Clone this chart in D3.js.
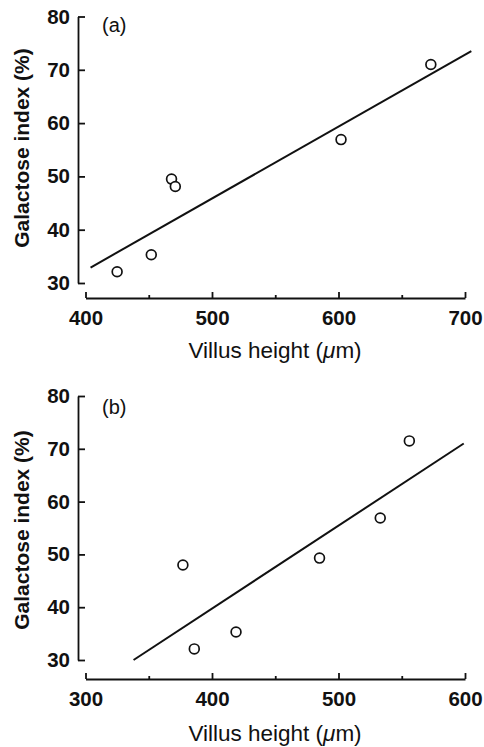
<!DOCTYPE html>
<html>
<head>
<meta charset="utf-8">
<script src="https://cdn.jsdelivr.net/npm/d3@7"></script>
<style>
  body { margin: 0; background: #fff; }
  text { font-family: "Liberation Sans", Arial, sans-serif; fill: #111; }
</style>
</head>
<body>
<div id="chart"></div>
<script>
// panel (a)
const villusA = [425, 452, 468, 471, 602, 673];
const galactoseA = [32.1, 35.3, 49.5, 48.1, 56.9, 71.0];
const fitXA = [404, 705];
const fitYA = [32.9, 73.5];
const xTicksA = [400, 500, 600, 700];
const xMinorA = [450, 550, 650];

// panel (b)
const villusB = [377, 386, 419, 485, 533, 556];
const galactoseB = [48.0, 32.1, 35.3, 49.3, 56.9, 71.5];
const fitXB = [338, 599];
const fitYB = [30, 71];
const xTicksB = [300, 400, 500, 600];
const xMinorB = [350, 450, 550];

const yTicks = [30, 40, 50, 60, 70, 80];
const panelLabels = ["(a)", "(b)"];
const xTitleParts = ["Villus height (", "\u03bc", "m)"];
const yTitle = "Galactose index (%)";

const width = 484, height = 747;

const svg = d3.select("#chart")
  .append("svg")
  .attr("width", width)
  .attr("height", height)
  .style("background-color", "white")

function drawPanel(p) {
  const g = svg.append("g").attr("transform", `translate(0, ${p.top})`)

  const x = d3.scaleLinear().domain(p.xDomain).range([85.5, 465])
  const y = d3.scaleLinear().domain([30, 80]).range([p.yBottom, 0])

  // y axis, ticks pointing inwards
  const yAxis = g.append("g")
    .attr("transform", "translate(78, 0)")
    .call(d3.axisLeft(y).tickValues(yTicks).tickSizeInner(-7).tickSizeOuter(0).tickPadding(8))
  yAxis.selectAll("text")
    .style("font-size", "20.5px").style("font-weight", "bold")
    .style("font-family", "Liberation Sans, Arial, sans-serif")

  // x axis drawn as a separate bar under the plot
  const xAxis = g.append("g")
    .attr("transform", `translate(0, ${p.xAxisY})`)
    .call(d3.axisBottom(x).tickValues(p.xTicks).tickSizeInner(-6).tickSizeOuter(0).tickPadding(12.5))
  xAxis.selectAll("text")
    .style("font-size", "20.5px").style("font-weight", "bold")
    .style("font-family", "Liberation Sans, Arial, sans-serif")

  g.append("g")
    .attr("transform", `translate(0, ${p.xAxisY})`)
    .call(d3.axisBottom(x).tickValues(p.xMinor).tickSizeInner(-3).tickSizeOuter(0).tickFormat(""))
    .call(a => a.select(".domain").remove())

  g.selectAll(".domain, .tick line").attr("stroke", "#111").attr("stroke-width", 1.8)

  // regression line
  const fit = p.fitX.map((v, i) => [v, p.fitY[i]])
  g.append("path")
    .datum(fit)
    .attr("fill", "none")
    .attr("stroke", "#111")
    .attr("stroke-width", 2)
    .attr("d", d3.line().x(d => x(d[0])).y(d => y(d[1])))

  // data points
  const pts = p.xs.map((v, i) => ({ x: v, y: p.ys[i] }))
  g.selectAll(".pt")
    .data(pts)
    .join("circle")
    .classed("pt", true)
      .attr("cx", d => x(d.x))
      .attr("cy", d => y(d.y))
      .attr("r", 4.9)
      .attr("fill", "white")
      .attr("stroke", "#111")
      .attr("stroke-width", 1.7)

  g.append("text")
    .attr("x", 102).attr("y", p.labelY)
    .style("font-size", "20px")
    .text(p.label)

  const xt = g.append("text")
    .attr("x", 275).attr("y", p.xTitleY)
    .attr("text-anchor", "middle")
    .style("font-size", "22.5px")
  xt.selectAll("tspan")
    .data(xTitleParts)
    .join("tspan")
    .style("font-style", (d, i) => i === 1 ? "italic" : "normal")
    .text(d => d)

  g.append("text")
    .attr("transform", `translate(29, ${p.yTitleY}) rotate(-90)`)
    .attr("text-anchor", "middle")
    .style("font-size", "21px").style("font-weight", "bold")
    .text(yTitle)
}

drawPanel({ top: 16.5, yBottom: 266.5, xAxisY: 281.5, xDomain: [400, 700],
  xTicks: xTicksA, xMinor: xMinorA, xs: villusA, ys: galactoseA,
  fitX: fitXA, fitY: fitYA, label: panelLabels[0],
  labelY: 15.5, xTitleY: 341.5, yTitleY: 131.5 })

drawPanel({ top: 396, yBottom: 264, xAxisY: 283, xDomain: [300, 600],
  xTicks: xTicksB, xMinor: xMinorB, xs: villusB, ys: galactoseB,
  fitX: fitXB, fitY: fitYB, label: panelLabels[1],
  labelY: 18, xTitleY: 345, yTitleY: 134 })
</script>
</body>
</html>
